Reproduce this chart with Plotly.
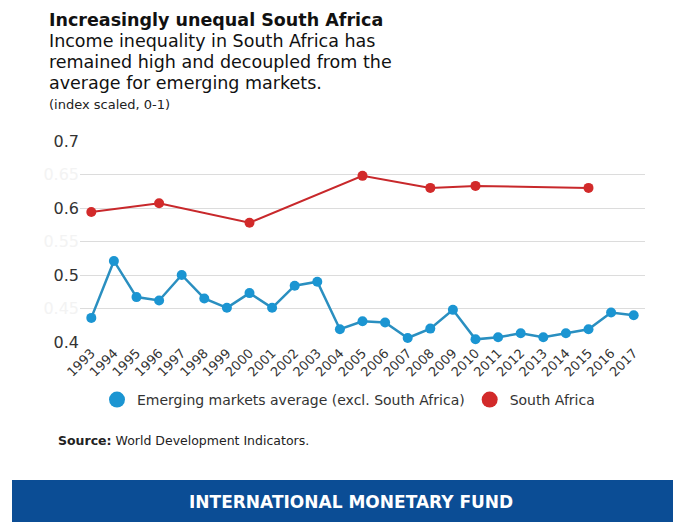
import plotly.graph_objects as go

# ---- data -------------------------------------------------------------
years = [str(y) for y in range(1993, 2018)]

em_avg = [0.436, 0.521, 0.467, 0.462, 0.500, 0.465, 0.451, 0.473, 0.451,
          0.484, 0.490, 0.419, 0.431, 0.429, 0.406, 0.420, 0.448, 0.404,
          0.407, 0.413, 0.407, 0.413, 0.419, 0.444, 0.440]

sa_years = ["1993", "1996", "2000", "2005", "2008", "2010", "2015"]
sa_vals = [0.594, 0.607, 0.578, 0.648, 0.630, 0.633, 0.630]

y_ticks = [0.4, 0.45, 0.5, 0.55, 0.6, 0.65, 0.7]
y_tick_text = ["0.4", "<span style='color:#f3f3f3'>0.45</span>", "0.5",
               "<span style='color:#f3f3f3'>0.55</span>", "0.6",
               "<span style='color:#f3f3f3'>0.65</span>", "0.7"]

BLUE = "#1b95d2"
BLUE_LINE = "#2a8fc0"
RED = "#d22a2a"
IMF_BLUE = "#0b4d95"
SANS = "DejaVu Sans, Verdana, sans-serif"

# ---- layout geometry (pixels) ----------------------------------------
W, H = 673, 522
L, R, T, B = 80, 28, 141, 180
PW, PH = W - L - R, H - T - B


def px_x(x):
    return (x - L) / PW


def px_y(y):
    return (H - B - y) / PH


fig = go.Figure()

fig.add_trace(go.Scatter(
    x=years, y=em_avg, mode="lines+markers",
    line=dict(color=BLUE_LINE, width=2.5),
    marker=dict(color=BLUE, size=10),
    showlegend=False, cliponaxis=False,
))
fig.add_trace(go.Scatter(
    x=sa_years, y=sa_vals, mode="lines+markers",
    line=dict(color="#c8282b", width=2),
    marker=dict(color=RED, size=10),
    showlegend=False, cliponaxis=False,
))

# legend entries drawn as plain circles
fig.add_trace(go.Scatter(
    x=[None], y=[None], mode="markers", name="Emerging markets average (excl. South Africa)",
    marker=dict(color=BLUE, size=16),
))
fig.add_trace(go.Scatter(
    x=[None], y=[None], mode="markers", name="South Africa",
    marker=dict(color=RED, size=16),
))

annotations = [
    dict(text="<b>Increasingly unequal South Africa</b>", x=px_x(47), y=px_y(20),
         font=dict(size=17.5, color="#111")),
    dict(text="Income inequality in South Africa has", x=px_x(47), y=px_y(41),
         font=dict(size=17.5, color="#111")),
    dict(text="remained high and decoupled from the", x=px_x(47), y=px_y(62),
         font=dict(size=17.5, color="#111")),
    dict(text="average for emerging markets.", x=px_x(47), y=px_y(83),
         font=dict(size=17.5, color="#111")),
    dict(text="(index scaled, 0-1)", x=px_x(47), y=px_y(104),
         font=dict(size=13, color="#222")),
    dict(text="<b>Source:</b> World Development Indicators.", x=px_x(56), y=px_y(440),
         font=dict(size=12.5, color="#222")),
    dict(text="<b>INTERNATIONAL MONETARY FUND</b>", x=px_x(351), y=px_y(502),
         xanchor="center", font=dict(size=17, color="white")),
]
for a in annotations:
    a.setdefault("xanchor", "left")
    a.update(xref="paper", yref="paper", yanchor="middle", showarrow=False)

fig.update_layout(
    width=W, height=H,
    margin=dict(l=L, r=R, t=T, b=B),
    paper_bgcolor="white", plot_bgcolor="white",
    font=dict(family=SANS, color="#222"),
    annotations=annotations,
    shapes=[dict(type="rect", xref="paper", yref="paper",
                 x0=px_x(12), x1=px_x(W), y0=px_y(480), y1=px_y(H),
                 fillcolor=IMF_BLUE, line=dict(width=0), layer="below")],
    legend=dict(orientation="h", x=px_x(97), y=px_y(400), xanchor="left",
                yanchor="middle", font=dict(size=14, color="#333"),
                itemwidth=30, tracegroupgap=0, bgcolor="rgba(0,0,0,0)"),
    xaxis=dict(type="category", range=[-0.5, 24.5], tickangle=-45,
               showgrid=False, showline=False, zeroline=False, ticks="",
               tickfont=dict(size=13, color="#333")),
    yaxis=dict(range=[0.4, 0.7], tickvals=y_ticks, ticktext=y_tick_text,
               showgrid=True, gridcolor="#dcdcdc", gridwidth=1,
               zeroline=False, showline=False, ticks="",
               tickfont=dict(size=16, color="#333")),
)

fig.write_html("out.html")
